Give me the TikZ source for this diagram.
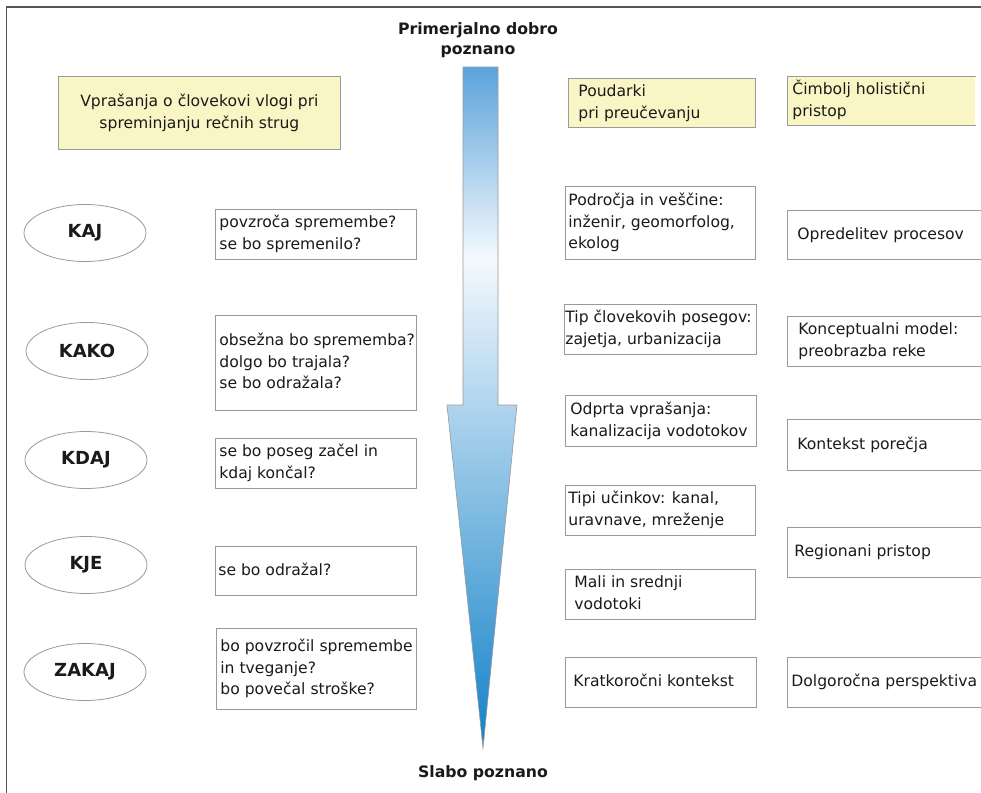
\documentclass[tikz,border=0pt]{standalone}
\usepackage{fontspec}
\setmainfont{DejaVu Sans}
\usetikzlibrary{shapes.geometric}
\definecolor{bgray}{HTML}{9A9A9A}
\definecolor{ygfill}{HTML}{FAF5C4}
\definecolor{framec}{HTML}{555555}
\definecolor{topblue}{HTML}{5BA3DB}
\definecolor{midwhite}{HTML}{F4F9FD}
\definecolor{tipblue}{HTML}{1281C8}
\definecolor{txt}{HTML}{1A1A1A}
\pgfdeclareverticalshading{arrshade}{100bp}{color(0bp)=(tipblue); color(25bp)=(tipblue); color(61bp)=(midwhite); color(75bp)=(topblue); color(100bp)=(topblue)}
\newcommand{\fs}{\fontsize{15.6}{21.7}\selectfont}
\newcommand{\fb}{\fontsize{15.7}{20}\selectfont\bfseries}
\newcommand{\fe}{\fontsize{18}{22}\selectfont\bfseries}
\newcommand{\bxt}[2]{\makebox[#1pt][l]{\begin{tabular}{@{}l@{}}#2\end{tabular}}}
\begin{document}
\begin{tikzpicture}[x=1pt,y=-1pt,
  every node/.style={text=txt},
  bline/.style={draw=bgray, line width=0.8pt},
  wbox/.style={bline, fill=white, anchor=north west, inner ysep=0pt, font=\fs},
  ybox/.style={wbox, fill=ygfill},
  qell/.style={ellipse, draw=bgray, line width=0.8pt, minimum width=122, minimum height=57, inner sep=0pt, font=\fe},
  lbl/.style={font=\fb, align=center}]
\useasboundingbox (0,0) rectangle (981,792);
\begin{scope}
\clip (0,0) rectangle (981,792);
\fill[white] (0,0) rectangle (981,792);
\draw[framec, line width=1.6pt] (6.5,800) -- (6.5,7) -- (990,7);

% arrow
\shadedraw[shading=arrshade, draw=gray!80, line width=0.6pt]
  (463,67) -- (498,67) -- (498,405) -- (517,405) -- (483,748) -- (447,405) -- (463,405) -- cycle;

\node[lbl] (ttop) at (478,40) {Primerjalno dobro\\poznano};
\node[lbl] (tbot) at (483,773) {Slabo poznano};

% left header
\node[ybox, minimum width=282, minimum height=73, inner xsep=0pt, align=center] (q) at (58,76)
  {Vprašanja o človekovi vlogi pri\\spreminjanju rečnih strug};

% ellipses
\node[qell] (kaj) at (85,233) {KAJ};
\node[qell] (kako) at (87,351) {KAKO};
\node[qell] (kdaj) at (86,460) {KDAJ};
\node[qell] (kje) at (86,565) {KJE};
\node[qell] (zakaj) at (85,672) {ZAKAJ};

% left question boxes
\node[wbox, minimum width=201, minimum height=50, inner xsep=4pt] (a1) at (215,209)
  {\bxt{193}{povzroča spremembe?\\se bo spremenilo?}};
\node[wbox, minimum width=201, minimum height=95, inner xsep=4pt] (a2) at (215,315)
  {\bxt{193}{obsežna bo sprememba?\\dolgo bo trajala?\\se bo odražala?}};
\node[wbox, minimum width=201, minimum height=50, inner xsep=4pt] (a3) at (215,438)
  {\bxt{193}{se bo poseg začel in\\kdaj končal?}};
\node[wbox, minimum width=201, minimum height=49, inner xsep=3pt] (a4) at (215,546)
  {\bxt{195}{se bo odražal?}};
\node[wbox, minimum width=200, minimum height=81, inner xsep=4pt] (a5) at (216,628)
  {\bxt{192}{bo povzročil spremembe\\in tveganje?\\bo povečal stroške?}};

% middle column
\node[ybox, minimum width=187, minimum height=49, inner xsep=10pt] (m0) at (568,78)
  {\bxt{167}{Poudarki\\pri preučevanju}};
\node[wbox, minimum width=190, minimum height=73, inner xsep=3pt] (m1) at (565,186)
  {\bxt{184}{Področja in veščine:\\inženir, geomorfolog,\\ekolog}};
\node[wbox, minimum width=192, minimum height=50, inner xsep=1pt] (m2) at (564,304)
  {\bxt{190}{Tip človekovih posegov:\\zajetja, urbanizacija}};
\node[wbox, minimum width=191, minimum height=51, inner xsep=5pt] (m3) at (565,395)
  {\bxt{181}{Odprta vprašanja:\\kanalizacija vodotokov}};
\node[wbox, minimum width=190, minimum height=50, inner xsep=3pt] (m4) at (565,485)
  {\bxt{184}{Tipi učinkov: kanal,\\uravnave, mreženje}};
\node[wbox, minimum width=190, minimum height=50, inner xsep=9pt] (m5) at (565,569)
  {\bxt{172}{Mali in srednji\\vodotoki}};
\node[wbox, minimum width=191, minimum height=50, inner xsep=8pt] (m6) at (565,657)
  {\bxt{175}{Kratkoročni kontekst}};

% right column
\node[ybox, draw=none, minimum width=188, minimum height=49, inner xsep=5pt] (r0) at (787,76)
  {\bxt{178}{Čimbolj holistični\\pristop}};
\draw[bline] (r0.north east) -- (r0.north west) -- (r0.south west) -- (r0.south east);
\node[wbox, minimum width=210, minimum height=49, inner xsep=10pt] (r1) at (787,210)
  {\bxt{190}{Opredelitev procesov}};
\node[wbox, minimum width=210, minimum height=50, inner xsep=11pt] (r2) at (787,316)
  {\bxt{188}{Konceptualni model:\\preobrazba reke}};
\node[wbox, minimum width=210, minimum height=51, inner xsep=10pt] (r3) at (787,419)
  {\bxt{190}{Kontekst porečja}};
\node[wbox, minimum width=210, minimum height=50, inner xsep=7pt] (r4) at (787,527)
  {\bxt{196}{Regionani pristop}};
\node[wbox, minimum width=210, minimum height=50, inner xsep=4pt] (r5) at (787,657)
  {\bxt{202}{Dolgoročna perspektiva}};
\end{scope}
\end{tikzpicture}
\end{document}
